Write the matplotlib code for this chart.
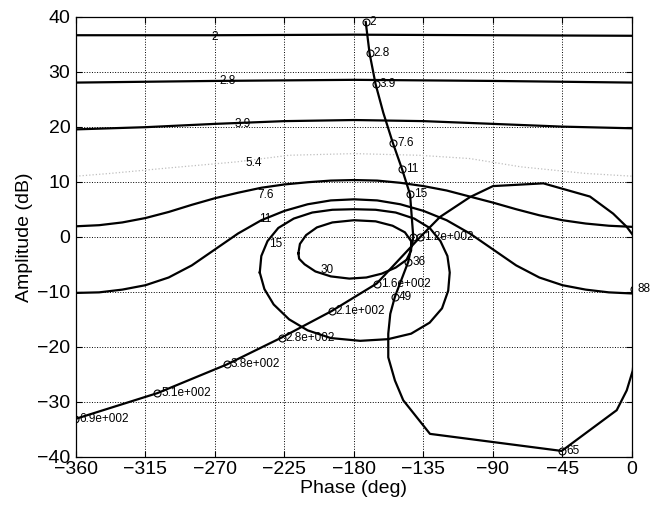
import matplotlib
matplotlib.use('Agg')
import matplotlib.pyplot as plt

plt.rcParams['font.family'] = ['Liberation Sans', 'DejaVu Sans']

# Bounds (phase in deg, amplitude in dB), labelled by frequency
b2_ph = [-360, -270, -180, -90, 0]
b2_db = [36.6, 36.6, 36.7, 36.6, 36.5]
b28_ph = [-360, -270, -180, -90, 0]
b28_db = [28.0, 28.3, 28.5, 28.3, 28.0]
b39_ph = [-360, -315, -270, -225, -180, -135, -90, -45, 0]
b39_db = [19.5, 19.9, 20.5, 21.0, 21.2, 21.0, 20.5, 20.0, 19.7]
b54_ph = [-360, -338, -300, -256, -222, -180, -138, -105, -72, -30, 0]
b54_db = [11.0, 11.5, 12.5, 13.6, 14.8, 15.1, 14.8, 14.2, 12.7, 11.5, 11.0]
b76_ph = [-360, -345, -330, -315, -300, -285, -270, -255, -240, -225, -210, -195, -180,
          -165, -150, -135, -120, -105, -90, -75, -60, -45, -30, -15, 0]
b76_db = [1.9, 2.1, 2.6, 3.4, 4.5, 5.8, 7.0, 8.0, 8.9, 9.5, 9.9, 10.2, 10.3,
          10.2, 9.8, 9.2, 8.4, 7.3, 6.2, 5.0, 3.9, 3.0, 2.4, 2.0, 1.8]
b11_ph = [-360, -345, -330, -315, -300, -285, -270, -255, -240, -225, -210, -195, -180,
          -165, -150, -135, -120, -105, -90, -75, -60, -45, -30, -15, 0]
b11_db = [-10.2, -10.1, -9.6, -8.8, -7.4, -5.2, -2.3, 0.6, 3.0, 4.7, 5.9, 6.6, 6.8,
          6.6, 5.9, 4.7, 3.0, 0.6, -2.3, -5.2, -7.4, -8.8, -9.6, -10.1, -10.3]
b15_ph = [-241, -240, -236, -229, -219, -207, -194, -180, -166, -153, -141, -131, -124,
          -119.5, -118, -119, -123, -131, -143, -158, -176, -195, -210, -222, -232, -238, -241]
b15_db = [-6.5, -3.5, -0.8, 1.6, 3.3, 4.4, 4.9, 5.0, 4.9, 4.4, 3.3, 1.6, -0.8,
          -3.5, -6.5, -9.8, -13.0, -15.6, -17.6, -18.6, -18.9, -18.4, -17.0, -15.0, -12.3, -9.5, -6.5]
b30_ph = [-216, -215, -211, -204, -194, -180, -166, -155, -147, -143, -143, -146, -153,
          -162, -172, -183, -195, -205, -212, -215.5, -216]
b30_db = [-3.0, -1.3, 0.3, 1.7, 2.6, 3.0, 2.8, 2.0, 0.8, -0.8, -2.5, -4.2, -5.6,
          -6.7, -7.4, -7.6, -7.2, -6.3, -5.0, -4.0, -3.0]

bound_labels = ['2', '2.8', '3.9', '5.4', '7.6', '11', '15', '30']
bound_lab_ph = [-270, -262, -252, -245, -237.5, -237.5, -231, -197.5]
bound_lab_db = [36.2, 28.3, 20.5, 13.4, 7.6, 3.3, -1.4, -6.0]

# Open-loop response path
ol_ph = [-172.4, -169.9, -166.0, -161.0, -154.9, -148.9, -143.7, -141.6, -144.8, -153.5,
         -156.5, -157.8, -157.8, -153.5, -148.1, -130.8, -45.5, -9.9, -3.4, 0.5, 3.0, 1.0,
         2.0, 0.6, -3.4, -12.2, -27.2, -57.4, -90.0, -104.9, -124.3, -137.3,
         -165.3, -194.5, -226.8, -262.4, -307.3, -360.5]
ol_db = [39.0, 33.3, 27.7, 22.5, 17.1, 12.3, 7.7, -0.1, -4.5, -10.9,
         -14.0, -17.6, -21.9, -26.1, -29.7, -35.8, -38.9, -31.5, -27.9, -24.3, -17.0, -9.5,
         -4.0, 0.3, 1.8, 4.2, 7.3, 9.7, 9.2, 7.2, 3.6, -0.1,
         -8.5, -13.5, -18.3, -23.2, -28.4, -33.1]

# Frequency markers on the response
freq_labels = ['2', '2.8', '3.9', '7.6', '11', '15', '', '36', '49', '65', '88',
               '1.2e+002', '1.6e+002', '2.1e+002', '2.8e+002', '3.8e+002', '5.1e+002', '6.9e+002']
freq_ph = [-172.4, -169.9, -166.0, -154.9, -148.9, -143.7, -141.6, -144.8, -153.5, -45.5, 1.0,
           -137.3, -165.3, -194.5, -226.8, -262.4, -307.3, -360.5]
freq_db = [39.0, 33.3, 27.7, 17.1, 12.3, 7.7, -0.1, -4.5, -10.9, -38.9, -9.5,
           -0.1, -8.5, -13.5, -18.3, -23.2, -28.4, -33.1]

fig = plt.figure(figsize=(6.51, 5.08), dpi=100)
ax = fig.add_axes([0.1167, 0.1004, 0.8541, 0.8671])

lw = 1.6
for ph, db in [(b2_ph, b2_db), (b28_ph, b28_db), (b39_ph, b39_db), (b76_ph, b76_db),
               (b11_ph, b11_db), (b15_ph, b15_db), (b30_ph, b30_db)]:
    ax.plot(ph, db, color='black', lw=lw)
ax.plot(b54_ph, b54_db, color='0.75', lw=0.9, linestyle=':')

for t, x, y in zip(bound_labels, bound_lab_ph, bound_lab_db):
    ax.text(x, y, t, fontsize=8.5, ha='center', va='center')

ax.plot(ol_ph, ol_db, color='black', lw=lw)
ax.plot(freq_ph, freq_db, 'o', ms=5, mfc='none', mec='black', mew=0.8)
for t, x, y in zip(freq_labels, freq_ph, freq_db):
    ax.annotate(t, (x, y), xytext=(3, 0), textcoords='offset points',
                fontsize=8.5, ha='left', va='center', annotation_clip=False)

ax.set_xlim(-360, 0)
ax.set_ylim(-40, 40)
ax.set_xticks(range(-360, 1, 45))
ax.set_yticks(range(-40, 41, 10))
ax.tick_params(direction='in', top=True, right=True, labelsize=14, length=4, width=0.8)
ax.tick_params(axis='x', pad=3)
ax.tick_params(axis='y', pad=4)
ax.grid(True, color='black', linestyle=':', lw=0.7)
for s in ax.spines.values():
    s.set_linewidth(0.9)

ax.set_xlabel('Phase (deg)', fontsize=14, labelpad=1)
ax.set_ylabel('Amplitude (dB)', fontsize=14, labelpad=3)

fig.savefig('out.png', dpi=100)
